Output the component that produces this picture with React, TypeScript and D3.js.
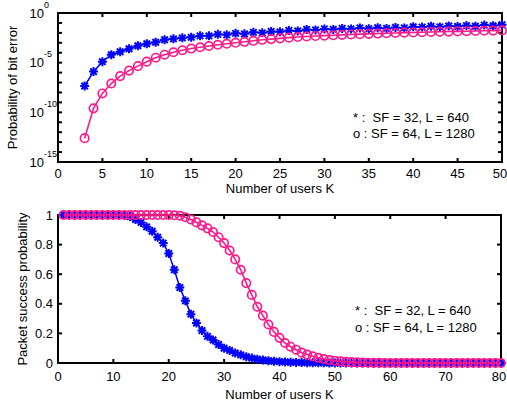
import React from 'react';
import * as d3 from 'd3';

// ---------- data ----------
const topK = d3.range(3, 51); // K = 3..50
// log10 of probability of bit error
const topBlueLog = [-7.35, -5.9, -4.9, -4.2, -3.9, -3.6, -3.3, -3.1, -2.95, -2.7, -2.6, -2.5, -2.45, -2.3, -2.3, -2.15, -2.2, -2.05, -2.1, -1.95, -2.0, -1.85, -1.9, -1.75, -1.8, -1.65, -1.7, -1.6, -1.65, -1.55, -1.6, -1.5, -1.58, -1.48, -1.55, -1.45, -1.5, -1.38, -1.42, -1.33, -1.4, -1.3, -1.36, -1.27, -1.33, -1.22, -1.28, -1.18];
const topRedLog = [-12.6, -9.6, -8.1, -7.1, -6.35, -5.8, -5.35, -4.9, -4.5, -4.2, -3.95, -3.75, -3.58, -3.45, -3.32, -3.2, -3.1, -3.0, -2.9, -2.8, -2.7, -2.63, -2.55, -2.48, -2.42, -2.37, -2.32, -2.28, -2.24, -2.2, -2.16, -2.13, -2.1, -2.07, -2.04, -2.01, -1.98, -1.96, -1.94, -1.91, -1.89, -1.87, -1.85, -1.83, -1.81, -1.79, -1.77, -1.75];

const botK = d3.range(1, 81); // K = 1..80
const botBlue = [1, 1, 1, 1, 1, 1, 1, 1, 1, 1, 1, 0.998, 0.99, 0.97, 0.95, 0.92, 0.89, 0.85, 0.81, 0.74, 0.63, 0.51, 0.42, 0.33, 0.27, 0.22, 0.18, 0.155, 0.125, 0.1, 0.085, 0.068, 0.055, 0.042, 0.033, 0.026, 0.02, 0.015, 0.012, 0.009, 0.007, 0.005, 0.004, 0.003, 0.002, 0.002, 0.001, 0.001, 0, 0, 0, 0, 0, 0, 0, 0, 0, 0, 0, 0, 0, 0, 0, 0, 0, 0, 0, 0, 0, 0, 0, 0, 0, 0, 0, 0, 0, 0, 0, 0];
const botRed = [1, 1, 1, 1, 1, 1, 1, 1, 1, 1, 1, 1, 1, 1, 1, 1, 1, 1, 1, 1, 0.998, 0.995, 0.985, 0.97, 0.95, 0.93, 0.91, 0.885, 0.85, 0.81, 0.76, 0.7, 0.63, 0.54, 0.46, 0.38, 0.32, 0.26, 0.21, 0.17, 0.135, 0.11, 0.09, 0.07, 0.057, 0.045, 0.035, 0.027, 0.02, 0.015, 0.011, 0.008, 0.006, 0.004, 0.003, 0.002, 0.001, 0.001, 0, 0, 0, 0, 0, 0, 0, 0, 0, 0, 0, 0, 0, 0, 0, 0, 0, 0, 0, 0, 0, 0];

const topXTicks = [0, 5, 10, 15, 20, 25, 30, 35, 40, 45, 50];
const topYMajor = [0, -5, -10, -15];
const topYMinor = d3.range(-15, 1);
const botXTicks = [0, 10, 20, 30, 40, 50, 60, 70, 80];
const botYTicks = [0, 0.2, 0.4, 0.6, 0.8, 1];

const legend1 = '* :  SF = 32, L = 640';
const legend2 = 'o : SF = 64, L = 1280';
const xLabel = 'Number of users K';
const topYLabel = 'Probability of bit error';
const botYLabel = 'Packet success probability';

const BLUE = '#0000ff';
const PINK = '#ff1a8c';
const FONT = 'Liberation Sans, Arial, sans-serif';

function Star({ x, y }: { x: number; y: number }) {
  const r = 4.5;
  const d = r * 0.72;
  return (
    <path
      d={`M${x - r},${y}H${x + r}M${x},${y - r}V${y + r}M${x - d},${y - d}L${x + d},${y + d}M${x - d},${y + d}L${x + d},${y - d}`}
      stroke={BLUE}
      strokeWidth={2}
      fill="none"
    />
  );
}

function Frame({ L, R, T, B }: { L: number; R: number; T: number; B: number }) {
  return <rect x={L} y={T} width={R - L} height={B - T} fill="none" stroke="#000" strokeWidth={2} />;
}

export default function App() {
  // top plot
  const tL = 58, tR = 502, tT = 13, tB = 162;
  const tx = d3.scaleLinear().domain([0, 50]).range([tL, tR]);
  const ty = d3.scaleLinear().domain([-15, 0]).range([tB, tT]);
  // bottom plot
  const bL = 58, bR = 501, bT = 215, bB = 363;
  const bx = d3.scaleLinear().domain([0, 80]).range([bL, bR]);
  const by = d3.scaleLinear().domain([0, 1]).range([bB, bT]);

  const tBlueLine = d3.line<number>().x((_, i) => tx(topK[i])).y((v) => ty(v))(topBlueLog) || '';
  const tRedLine = d3.line<number>().x((_, i) => tx(topK[i])).y((v) => ty(v))(topRedLog) || '';
  const bBlueLine = d3.line<number>().x((_, i) => bx(botK[i])).y((v) => by(v))(botBlue) || '';
  const bRedLine = d3.line<number>().x((_, i) => bx(botK[i])).y((v) => by(v))(botRed) || '';

  const tick = 4;
  return (
    <svg width={507} height={405} style={{ position: 'absolute', left: 0, top: 0, background: '#fff' }} fontFamily={FONT}>
      <rect width={507} height={405} fill="#fff" />
      {/* ===== TOP ===== */}
      <Frame L={tL} R={tR} T={tT} B={tB} />
      {topXTicks.map((v) => (
        <g key={'tx' + v}>
          <line x1={tx(v)} x2={tx(v)} y1={tB} y2={tB - tick} stroke="#000" strokeWidth={2} />
          <line x1={tx(v)} x2={tx(v)} y1={tT} y2={tT + tick} stroke="#000" strokeWidth={2} />
          <text x={Math.min(tx(v), 500)} y={tB + 16} fontSize={13} textAnchor="middle" fill="#000">{v}</text>
        </g>
      ))}
      {topYMinor.map((v) => (
        <g key={'tym' + v}>
          <line x1={tL} x2={tL + tick} y1={ty(v)} y2={ty(v)} stroke="#000" strokeWidth={2} />
          <line x1={tR} x2={tR - tick} y1={ty(v)} y2={ty(v)} stroke="#000" strokeWidth={2} />
        </g>
      ))}
      {topYMajor.map((v) => (
        <g key={'ty' + v}>
          <text x={44} y={ty(v)} dy="0.36em" fontSize={13} textAnchor="end" fill="#000">10</text>
          <text x={44} y={ty(v) - 7} dy="0.2em" fontSize={9} textAnchor="start" fill="#000">{v}</text>
        </g>
      ))}
      <text x={(tL + tR) / 2} y={193} fontSize={13} textAnchor="middle" fill="#000">{xLabel}</text>
      <text transform={`translate(17,${(tT + tB) / 2}) rotate(-90)`} fontSize={13} textAnchor="middle" fill="#000">{topYLabel}</text>
      <path d={tBlueLine} stroke={BLUE} strokeWidth={1.5} fill="none" />
      {topBlueLog.map((v, i) => <Star key={'tb' + i} x={tx(topK[i])} y={ty(v)} />)}
      <path d={tRedLine} stroke={PINK} strokeWidth={1.6} fill="none" />
      {topRedLog.map((v, i) => (
        <circle key={'tr' + i} cx={tx(topK[i])} cy={ty(v)} r={4.2} fill="none" stroke={PINK} strokeWidth={1.7} />
      ))}
      <text x={353} y={117} dy="0.36em" fontSize={13} fill="#000" style={{ whiteSpace: 'pre' }}>{legend1}</text>
      <text x={353} y={133} dy="0.36em" fontSize={13} fill="#000" style={{ whiteSpace: 'pre' }}>{legend2}</text>

      {/* ===== BOTTOM ===== */}
      <Frame L={bL} R={bR} T={bT} B={bB} />
      {botXTicks.map((v) => (
        <g key={'bx' + v}>
          <line x1={bx(v)} x2={bx(v)} y1={bB} y2={bB - tick} stroke="#000" strokeWidth={2} />
          <line x1={bx(v)} x2={bx(v)} y1={bT} y2={bT + tick} stroke="#000" strokeWidth={2} />
          <text x={Math.min(bx(v), 499)} y={bB + 18} fontSize={13} textAnchor="middle" fill="#000">{v}</text>
        </g>
      ))}
      {botYTicks.map((v) => (
        <g key={'by' + v}>
          <line x1={bL} x2={bL + tick} y1={by(v)} y2={by(v)} stroke="#000" strokeWidth={2} />
          <line x1={bR} x2={bR - tick} y1={by(v)} y2={by(v)} stroke="#000" strokeWidth={2} />
          <text x={53} y={by(v)} dy="0.36em" fontSize={13} textAnchor="end" fill="#000">{v}</text>
        </g>
      ))}
      <text x={(bL + bR) / 2} y={399} fontSize={13} textAnchor="middle" fill="#000">{xLabel}</text>
      <text transform={`translate(27,${(bT + bB) / 2}) rotate(-90)`} fontSize={13} textAnchor="middle" fill="#000">{botYLabel}</text>
      <path d={bBlueLine} stroke={BLUE} strokeWidth={1.5} fill="none" />
      {botBlue.map((v, i) => <Star key={'bb' + i} x={bx(botK[i])} y={by(v)} />)}
      <path d={bRedLine} stroke={PINK} strokeWidth={1.6} fill="none" />
      {botRed.map((v, i) => (
        <circle key={'br' + i} cx={bx(botK[i])} cy={by(v)} r={4.2} fill="none" stroke={PINK} strokeWidth={1.7} />
      ))}
      <text x={355} y={310} dy="0.36em" fontSize={13} fill="#000" style={{ whiteSpace: 'pre' }}>{legend1}</text>
      <text x={355} y={327} dy="0.36em" fontSize={13} fill="#000" style={{ whiteSpace: 'pre' }}>{legend2}</text>
    </svg>
  );
}
